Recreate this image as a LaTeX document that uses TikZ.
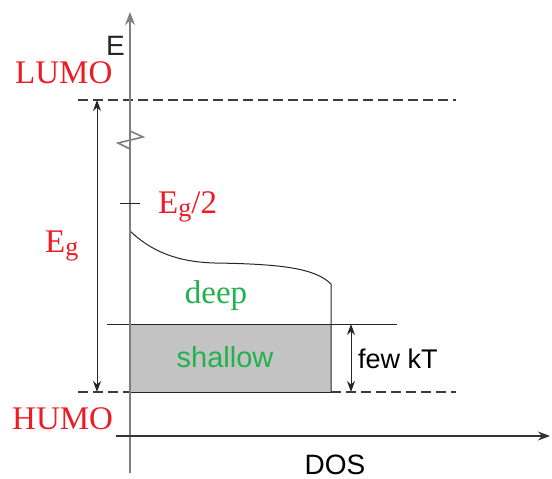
\documentclass[tikz,border=0pt]{standalone}
\usepackage{fontspec}
\setmainfont{Liberation Serif}
\setsansfont{Liberation Sans}
\usepackage{xcolor}
\usepackage{tikz}
\usetikzlibrary{arrows.meta,positioning,calc}
\definecolor{clrR}{RGB}{237,28,36}
\definecolor{clrGr}{RGB}{34,177,76}
\definecolor{clrAx}{RGB}{128,128,128}
\definecolor{clrD}{RGB}{60,60,60}
\definecolor{bgS}{RGB}{195,195,195}
\tikzset{
  level/.style={font=\fontsize{33}{36}\selectfont\rmfamily,text=clrR,inner sep=0pt,anchor=base west},
  trap/.style={font=\fontsize{29}{32}\selectfont\sffamily,text=clrGr,inner sep=0pt,anchor=base},
  axlabel/.style={font=\fontsize{28}{30}\selectfont\sffamily,text=black,inner sep=0pt,anchor=base west},
  gapline/.style={clrD,line width=1.2pt,dash pattern=on 10pt off 5pt},
  arrow/.style={{Stealth[length=11pt,width=8pt]}-{Stealth[length=11pt,width=8pt]},line width=1pt,black!85}
}
\begin{document}
\begin{tikzpicture}[x=1pt,y=-1pt]
  \useasboundingbox (0,0) rectangle (552,479);
  % levels
  \coordinate (lumoL) at (78,100);
  \coordinate (lumoR) at (456,100);
  \coordinate (humoL) at (78,392);
  \coordinate (humoR) at (456,392);
  \draw[gapline] (lumoL) -- (lumoR);
  \draw[gapline] (humoL) -- (130,392);
  \draw[gapline] (331,392) -- (humoR);
  % shallow states
  \fill[bgS] (130,324) rectangle (331,392);
  \draw[black!85,line width=1pt] (107,324) -- (397,324);
  \draw[black!85,line width=1pt] (130,392) -- (331,392);
  % deep states
  \draw[black!85,line width=1pt] (130,231) .. controls (150,250) and (175,262) .. (215,263)
    .. controls (280,264) and (315,268) .. (331,284) -- (331,392);
  % axes
  \draw[clrAx,line width=1.6pt,-{Stealth[length=13pt,width=10pt]}] (130,473) -- (130,131)
    -- (143,137) -- (118,143) -- (130,149) -- (130,12);
  \draw[black!80,line width=1.2pt,-{Stealth[length=12pt,width=9pt]}] (116,436) -- (550,436);
  \draw[black!85,line width=1pt] (120,203) -- (140,203);
  % arrows
  \coordinate (egT) at (97,100);
  \coordinate (egB) at (97,392);
  \draw[arrow] (egB) -- (egT);
  \coordinate (kTT) at (351,324);
  \coordinate (kTB) at (351,392);
  \draw[arrow] (kTB) -- (kTT);
  % labels
  \node[level] (lumo) at (15,83) {LUMO};
  \node[level] (humo) at (12,429) {HUMO};
  \node[level] (eg) at (45,252) {E\raisebox{-0.12em}{\fontsize{26}{28}\selectfont g}};
  \node[level] (eghalf) at (158,213) {E\raisebox{-0.12em}{\fontsize{26}{28}\selectfont g}/2};
  \node[level,anchor=base,text=clrGr] (deep) at (216,303) {deep};
  \node[trap] (shallow) at (225,367) {shallow};
  \node[axlabel,font=\fontsize{27}{30}\selectfont\sffamily] (fewkT) at (358,368) {few kT};
  \node[axlabel,text=black!85] (E) at (106,55) {E};
  \node[axlabel,anchor=base] (dos) at (335,474) {DOS};
\end{tikzpicture}
\end{document}
